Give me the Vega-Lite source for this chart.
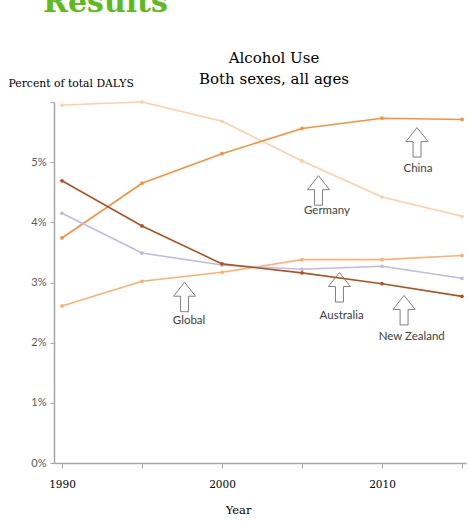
{
  "$schema": "https://vega.github.io/schema/vega-lite/v6.json",
  "padding": {"left": 8, "top": -12, "right": 2, "bottom": 2},
  "background": "white",
  "title": {
    "text": "Results",
    "anchor": "start",
    "frame": "group",
    "font": "DejaVu Serif",
    "fontSize": 30,
    "fontWeight": "bold",
    "color": "#5DBB1F",
    "dx": -11,
    "offset": 33
  },
  "datasets": {
    "series": [
      {"country": "Germany", "year": 1990, "value": 5.95},
      {"country": "Germany", "year": 1995, "value": 6.0},
      {"country": "Germany", "year": 2000, "value": 5.68},
      {"country": "Germany", "year": 2005, "value": 5.02},
      {"country": "Germany", "year": 2010, "value": 4.42},
      {"country": "Germany", "year": 2015, "value": 4.1},
      {"country": "China", "year": 1990, "value": 3.74},
      {"country": "China", "year": 1995, "value": 4.65},
      {"country": "China", "year": 2000, "value": 5.14},
      {"country": "China", "year": 2005, "value": 5.56},
      {"country": "China", "year": 2010, "value": 5.73},
      {"country": "China", "year": 2015, "value": 5.71},
      {"country": "Australia", "year": 1990, "value": 2.61},
      {"country": "Australia", "year": 1995, "value": 3.02},
      {"country": "Australia", "year": 2000, "value": 3.17},
      {"country": "Australia", "year": 2005, "value": 3.38},
      {"country": "Australia", "year": 2010, "value": 3.38},
      {"country": "Australia", "year": 2015, "value": 3.45},
      {"country": "Global", "year": 1990, "value": 4.15},
      {"country": "Global", "year": 1995, "value": 3.49},
      {"country": "Global", "year": 2000, "value": 3.29},
      {"country": "Global", "year": 2005, "value": 3.22},
      {"country": "Global", "year": 2010, "value": 3.27},
      {"country": "Global", "year": 2015, "value": 3.07},
      {"country": "New Zealand", "year": 1990, "value": 4.69},
      {"country": "New Zealand", "year": 1995, "value": 3.94},
      {"country": "New Zealand", "year": 2000, "value": 3.31},
      {"country": "New Zealand", "year": 2005, "value": 3.16},
      {"country": "New Zealand", "year": 2010, "value": 2.98},
      {"country": "New Zealand", "year": 2015, "value": 2.77}
    ],
    "arrows": [
      {"label": "China", "year": 2012.19, "value": 5.33},
      {"label": "Germany", "year": 2006.03, "value": 4.53},
      {"label": "Global", "year": 1997.66, "value": 2.76},
      {"label": "Australia", "year": 2007.34, "value": 2.92},
      {"label": "New Zealand", "year": 2011.38, "value": 2.54}
    ],
    "labels": [
      {"label": "China", "year": 2012.25, "value": 4.89},
      {"label": "Germany", "year": 2006.56, "value": 4.19},
      {"label": "Global", "year": 1997.94, "value": 2.36},
      {"label": "Australia", "year": 2007.48, "value": 2.44},
      {"label": "New Zealand", "year": 2011.86, "value": 2.1}
    ]
  },
  "vconcat": [
    {
      "width": 412,
      "height": 361,
      "title": {
        "text": ["Alcohol Use", "Both sexes, all ages"],
        "font": "DejaVu Serif",
        "fontSize": 15,
        "fontWeight": "normal",
        "lineHeight": 21,
        "color": "black",
        "anchor": "middle",
        "dx": 14,
        "offset": -10
      },
      "layer": [
        {
          "data": {"name": "series"},
          "mark": {"type": "line", "strokeWidth": 1.6, "point": {"filled": true, "size": 14}},
          "encoding": {
            "x": {
              "field": "year",
              "type": "quantitative",
              "scale": {"domain": [1989.5, 2015.25], "nice": false, "zero": false},
              "axis": {
                "values": [1990, 1995, 2000, 2005, 2010, 2015],
                "labelExpr": "datum.value % 10 === 0 ? datum.value : ''",
                "grid": false,
                "domainColor": "#a6a6a6",
                "domainWidth": 1.5,
                "tickColor": "#a6a6a6",
                "tickSize": 5,
                "labelFont": "DejaVu Serif",
                "labelFontSize": 10.5,
                "labelColor": "black",
                "labelPadding": 11,
                "labelFlush": false,
                "title": "Year",
                "titleFont": "DejaVu Serif",
                "titleFontSize": 11.5,
                "titleFontWeight": "normal",
                "titleColor": "black",
                "titleX": 184,
                "titlePadding": 15
              }
            },
            "y": {
              "field": "value",
              "type": "quantitative",
              "scale": {"domain": [0, 6], "nice": false},
              "axis": {
                "values": [0, 1, 2, 3, 4, 5, 6],
                "labelExpr": "datum.value < 6 ? datum.value + '%' : ''",
                "grid": false,
                "domainColor": "#a6a6a6",
                "domainWidth": 1.5,
                "tickColor": "#a6a6a6",
                "tickSize": 4,
                "labelFont": "Lato",
                "labelFontSize": 11,
                "labelColor": "#595959",
                "labelPadding": 4,
                "title": "Percent of total DALYS",
                "titleFont": "DejaVu Serif",
                "titleFontSize": 10.8,
                "titleFontWeight": "normal",
                "titleColor": "black",
                "titleAngle": 0,
                "titleAlign": "left",
                "titleBaseline": "alphabetic",
                "titleX": -46,
                "titleY": -16
              }
            },
            "color": {
              "field": "country",
              "type": "nominal",
              "scale": {
                "domain": ["Germany", "China", "Australia", "Global", "New Zealand"],
                "range": ["#FDD0A8", "#F7913F", "#FDB071", "#BDBCE0", "#B0521F"]
              },
              "legend": null
            }
          }
        },
        {
          "data": {"name": "arrows"},
          "mark": {
            "type": "point",
            "shape": "M0,-1 L0.75,-0.05 L0.27,-0.05 L0.27,1 L-0.27,1 L-0.27,-0.05 L-0.75,-0.05 Z",
            "size": 870,
            "filled": false,
            "stroke": "#7f7f7f",
            "strokeWidth": 1,
            "opacity": 1
          },
          "encoding": {
            "x": {"field": "year", "type": "quantitative"},
            "y": {"field": "value", "type": "quantitative"}
          }
        },
        {
          "data": {"name": "labels"},
          "mark": {
            "type": "text",
            "font": "Lato",
            "fontSize": 11.5,
            "color": "#404040",
            "align": "center",
            "baseline": "middle"
          },
          "encoding": {
            "x": {"field": "year", "type": "quantitative"},
            "y": {"field": "value", "type": "quantitative"},
            "text": {"field": "label", "type": "nominal"}
          }
        }
      ]
    }
  ],
  "config": {"view": {"stroke": null}, "concat": {"spacing": 0}}
}
